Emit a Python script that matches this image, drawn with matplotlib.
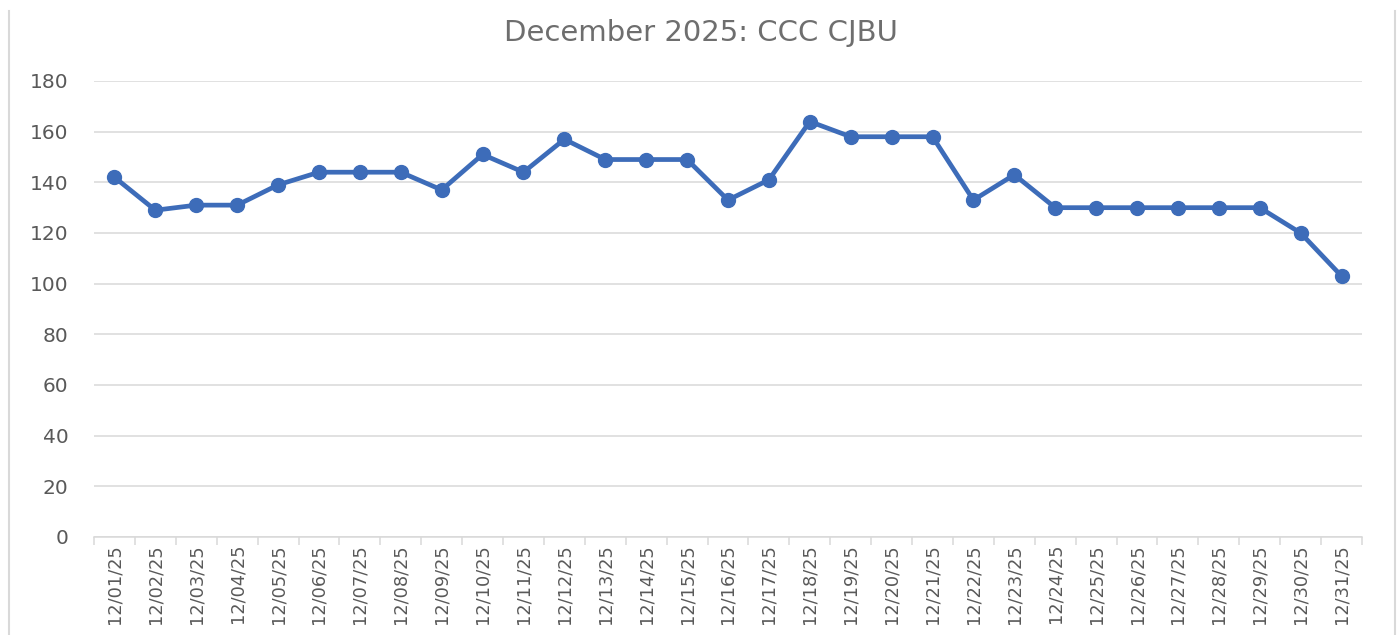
import matplotlib
matplotlib.use("Agg")
import matplotlib.pyplot as plt
from matplotlib.lines import Line2D
import numpy as np

dates = ["12/01/25", "12/02/25", "12/03/25", "12/04/25", "12/05/25", "12/06/25",
         "12/07/25", "12/08/25", "12/09/25", "12/10/25", "12/11/25", "12/12/25",
         "12/13/25", "12/14/25", "12/15/25", "12/16/25", "12/17/25", "12/18/25",
         "12/19/25", "12/20/25", "12/21/25", "12/22/25", "12/23/25", "12/24/25",
         "12/25/25", "12/26/25", "12/27/25", "12/28/25", "12/29/25", "12/30/25",
         "12/31/25"]
values = [142, 129, 131, 131, 139, 144, 144, 144, 137, 151, 144, 157, 149, 149,
          149, 133, 141, 164, 158, 158, 158, 133, 143, 130, 130, 130, 130, 130,
          130, 120, 103]
y_ticks = [0, 20, 40, 60, 80, 100, 120, 140, 160, 180]
title = "December 2025: CCC CJBU"

W, H = 1398, 635
fig = plt.figure(figsize=(W / 100, H / 100), dpi=100)
ax = fig.add_axes([94 / W, 1 - 537 / H, (1362 - 94) / W, (537 - 81) / H])

x = np.arange(len(dates))
ax.plot(x, values, color="#3D6CB9", linewidth=3.4, marker="o", markersize=10,
        markerfacecolor="#3D6CB9", markeredgecolor="#3D6CB9", zorder=3,
        solid_joinstyle="round")

ax.set_xlim(-0.5, len(dates) - 0.5)
ax.set_ylim(0, 180)
ax.set_yticks(y_ticks)
ax.set_yticklabels([str(v) for v in y_ticks])
ax.grid(axis="y", color="#D9D9D9", linewidth=1.1)
ax.set_axisbelow(True)

ax.set_xticks(x)
ax.set_xticklabels(dates, rotation=90)
ax.set_xticks(np.arange(-0.5, len(dates), 1.0), minor=True)
ax.tick_params(axis="x", which="major", length=0, pad=5, labelsize=12.8,
               labelcolor="#595959")
ax.tick_params(axis="x", which="minor", length=6, width=1.1, color="#D9D9D9",
               direction="out")
ax.tick_params(axis="y", length=0, pad=18.5, labelsize=14.5, labelcolor="#595959")

for s in ["top", "right", "left"]:
    ax.spines[s].set_visible(False)
ax.spines["bottom"].set_color("#D9D9D9")
ax.spines["bottom"].set_linewidth(1.1)

fig.text(701 / W, 1 - 33 / H, title, ha="center", va="center", fontsize=21,
         color="#6E6E6E")

# outer chart border (vertical edges)
for xp in (9, 1395):
    fig.add_artist(Line2D([xp / W, xp / W], [0, 1 - 11 / H], transform=fig.transFigure,
                          color="#D9D9D9", linewidth=1.5))

fig.savefig("out.png", dpi=100)
